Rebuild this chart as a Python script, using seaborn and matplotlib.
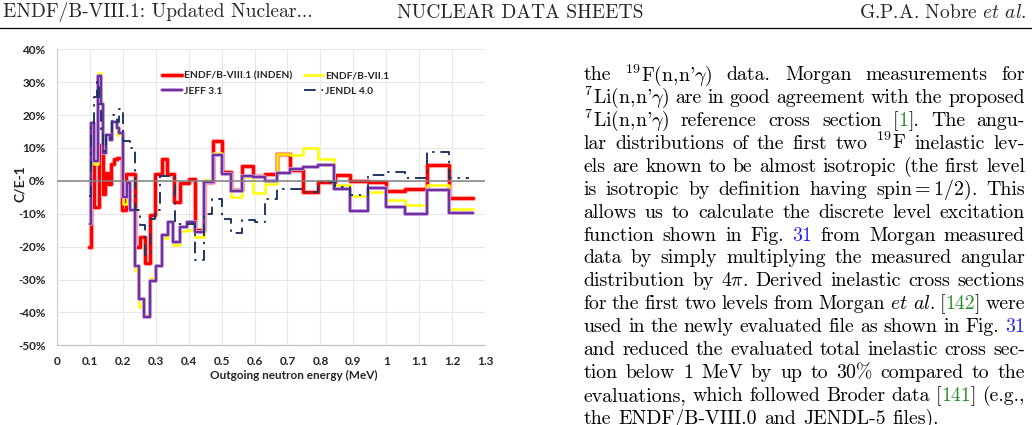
import matplotlib
matplotlib.use('Agg')
import matplotlib.pyplot as plt
import matplotlib.patheffects as pe
from matplotlib.lines import Line2D
import pandas as pd
import seaborn as sns

# values: C/E-1 in %, histogram edges in MeV
inden_e = [0.098, 0.104, 0.114, 0.127, 0.139, 0.148, 0.157, 0.165, 0.174, 0.183, 0.197, 0.21, 0.238,
           0.253, 0.268, 0.283, 0.298, 0.318, 0.334, 0.357, 0.374, 0.4, 0.42, 0.448, 0.475, 0.5,
           0.53, 0.561, 0.596, 0.632, 0.667, 0.708, 0.748, 0.793, 0.844, 0.89, 0.945, 1.0, 1.056,
           1.122, 1.19, 1.262]
inden_v = [-20, 13, -8, 11, -4, 2.5, -1, 5, 6.5, 7, -9, 2, -20, -17, -25, -10.5, 2, 6.7, 2, -6.5,
           -0.7, 0.6, -15, -0.3, 12, 2.6, -2.8, 4.4, 1.6, 2.1, 8.2, 3.4, -3.5, -0.4, 1.8, 0.1, -0.2,
           -3.2, -2.6, 4.9, -5.2]

jeff_e = [0.1, 0.104, 0.112, 0.124, 0.134, 0.141, 0.15, 0.162, 0.167, 0.182, 0.19, 0.2, 0.212,
          0.222, 0.238, 0.251, 0.265, 0.283, 0.3, 0.318, 0.337, 0.354, 0.374, 0.396, 0.42, 0.447,
          0.475, 0.5, 0.53, 0.561, 0.596, 0.632, 0.667, 0.708, 0.748, 0.793, 0.841, 0.89, 0.945,
          1.0, 1.056, 1.122, 1.19, 1.262]
jeff_v = [-13, 17.5, 6, 32, 23.5, 8.5, 14, 12.5, 18, 16, 14.5, -5, -0.8, -9, -26, -36, -41.5, -30.5,
          -25.8, -16.5, -12.5, -18.7, -14, -12.5, -15.4, -0.4, 8, 2.2, -3, 1.6, 1.3, -0.1, 2.3, 3.7,
          4.2, 4.9, -2.4, -9.2, -2.1, -8, -10, -2.9, -9.7]

b71_e = jeff_e
b71_v = [-12, 17.5, 5, 32.8, 23.5, 8.5, 14, 12.5, 18, 14, 14.5, -7, -0.8, -9, -27.5, -38.5, -40.8,
         -29.5, -25.8, -17.5, -12.5, -19.5, -15.3, -15, -17, 0.2, 8.5, 2, -4.8, 1.3, -3.7, -0.9,
         8.3, 8, 9.9, 6.7, -1.2, -4.7, -3.5, -5.7, -7.2, -1.4, -8.5]

jendl_e = [0.098, 0.104, 0.114, 0.121, 0.128, 0.135, 0.141, 0.15, 0.162, 0.167, 0.182, 0.19, 0.2,
           0.222, 0.238, 0.253, 0.268, 0.283, 0.298, 0.313, 0.359, 0.42, 0.448, 0.472, 0.5, 0.53,
           0.561, 0.6, 0.632, 0.667, 0.748, 0.793, 0.844, 0.89, 0.945, 1.0, 1.056, 1.122, 1.19, 1.25]
jendl_v = [-4.5, 17.5, 25.5, 30, 23.5, 15, 9, 14, 13, 20, 18, 22, 12, 10, -9, -13.5, -22.5, -11.5,
           -9, 1.6, -13, -24, -10, -5.5, -11.6, -16, -12, -12.5, -5.5, -2.6, -3.5, -0.2, -2, -4.2,
           1.8, 2.6, 0.8, 8.9, 0.8]

x_ticks = [0, 0.1, 0.2, 0.3, 0.4, 0.5, 0.6, 0.7, 0.8, 0.9, 1.0, 1.1, 1.2, 1.3]
x_labels = ['0', '0.1', '0.2', '0.3', '0.4', '0.5', '0.6', '0.7', '0.8', '0.9', '1', '1.1', '1.2', '1.3']
y_ticks = [-50, -40, -30, -20, -10, 0, 10, 20, 30, 40]
y_labels = ['-50%', '-40%', '-30%', '-20%', '-10%', '0%', '10%', '20%', '30%', '40%']

W, H = 1032, 425
sns.set_style('white')
plt.rcParams['font.family'] = ['Lato', 'DejaVu Sans']
plt.rcParams['mathtext.fontset'] = 'cm'

fig = plt.figure(figsize=(W / 100, H / 100), dpi=100)
ax = fig.add_axes([56.7 / W, 1 - 345.3 / H, 428.6 / W, 296 / H])


def steps(e, v):
    return pd.DataFrame({'E': e, 'CE': list(v) + [v[-1]]})


d = steps(inden_e, inden_v)
sns.lineplot(data=d, x='E', y='CE', drawstyle='steps-post', estimator=None, sort=False, ax=ax,
             color='#ff0000', lw=2.3, label='ENDF/B-VIII.1 (INDEN)',
             path_effects=[pe.withStroke(linewidth=3.8, foreground='#ffb4b4')])
d = steps(b71_e, b71_v)
sns.lineplot(data=d, x='E', y='CE', drawstyle='steps-post', estimator=None, sort=False, ax=ax,
             color='#ffff00', lw=1.8, label='ENDF/B-VII.1')
d = steps(jeff_e, jeff_v)
sns.lineplot(data=d, x='E', y='CE', drawstyle='steps-post', estimator=None, sort=False, ax=ax,
             color='#7030a0', lw=1.6, label='JEFF 3.1',
             path_effects=[pe.withStroke(linewidth=2.8, foreground='#c9a6e0')])
d = steps(jendl_e, jendl_v)
sns.lineplot(data=d, x='E', y='CE', drawstyle='steps-post', estimator=None, sort=False, ax=ax,
             color='#1f3864', lw=1.4, label='JENDL 4.0', linestyle=(0, (6, 3, 1.2, 3)))

ax.axhline(0, color='#808080', lw=1.1, zorder=5)

ax.set_xlim(0, 1.3)
ax.set_ylim(-50, 40)
ax.set_xticks(x_ticks)
ax.set_xticklabels(x_labels, fontsize=8.5, fontweight='bold')
ax.set_yticks(y_ticks)
ax.set_yticklabels(y_labels, fontsize=8.5, fontweight='bold')
ax.grid(True, color='#e8e8e8', lw=0.8)
ax.set_axisbelow(True)
for s in ['top', 'right']:
    ax.spines[s].set_visible(False)
ax.spines['left'].set_color('#d0d0d0')
ax.spines['bottom'].set_color('#bfbfbf')
ax.tick_params(axis='x', length=4, color='#bfbfbf', pad=4)
ax.tick_params(axis='y', length=0, pad=8)

ax.set_xlabel('Outgoing neutron energy (MeV)', fontsize=8.5, fontweight='bold')
ax.xaxis.set_label_coords(0.554, -0.083)
ax.set_ylabel('C/E-1', fontsize=10, fontweight='bold')
ax.yaxis.set_label_coords(-0.072, 0.545)

h, l = ax.get_legend_handles_labels()
order = ['ENDF/B-VIII.1 (INDEN)', 'JEFF 3.1', 'ENDF/B-VII.1', 'JENDL 4.0']
hd = dict(zip(l, h))
ax.legend([hd[k] for k in order], order, ncol=2, frameon=False, loc='upper left',
          bbox_to_anchor=(0.225, 0.955), prop={'weight': 'bold', 'size': 7.3},
          handlelength=1.9, handletextpad=0.2, columnspacing=1.2, labelspacing=0.55)

# ---- page text ----
SERIF = ['cmr10', 'DejaVu Serif']
GREEN = '#2a8a2a'
BLUE = '#2020ff'
renderer = fig.canvas.get_renderer()


def width(s, fs):
    t = fig.text(0, 0, s, fontsize=fs, family=SERIF)
    w = t.get_window_extent(renderer).width
    t.remove()
    return w


def parse(word):
    segs = []
    for piece in word.split('|'):
        if piece.startswith('g:'):
            segs.append((piece[2:], GREEN))
        elif piece.startswith('b:'):
            segs.append((piece[2:], BLUE))
        elif piece:
            segs.append((piece, 'black'))
    return segs


def place_line(line, ybase, x0, x1, fs, justify=True):
    words = [parse(w) for w in line.split()]
    ws = [[width(s, fs) for s, c in w] for w in words]
    tot = sum(sum(w) for w in ws)
    if justify and len(words) > 1:
        gap = (x1 - x0 - tot) / (len(words) - 1)
    else:
        gap = fs * 0.36 * 100 / 72
    x = x0
    for w, wl in zip(words, ws):
        for (s, c), sw in zip(w, wl):
            fig.text(x / W, 1 - ybase / H, s, fontsize=fs, family=SERIF, color=c, va='baseline')
            x += sw
        x += gap


body = [
    "the $^{19}$F(n,n'$\\gamma$) data. Morgan measurements for",
    "$^{7}$Li(n,n'$\\gamma$) are in good agreement with the proposed",
    "$^{7}$Li(n,n'$\\gamma$) reference cross section [|g:1|]. The angu-",
    "lar distributions of the first two $^{19}$F inelastic lev-",
    "els are known to be almost isotropic (the first level",
    "is isotropic by definition having spin$=1/2$). This",
    "allows us to calculate the discrete level excitation",
    "function shown in Fig. |b:31| from Morgan measured",
    "data by simply multiplying the measured angular",
    "distribution by 4$\\pi$. Derived inelastic cross sections",
    "for the first two levels from Morgan $\\mathit{et}$ $\\mathit{al.}$ [|g:142|] were",
    "used in the newly evaluated file as shown in Fig. |b:31|",
    "and reduced the evaluated total inelastic cross sec-",
    "tion below 1 MeV by up to 30% compared to the",
    "evaluations, which followed Broder data [|g:141|] (e.g.,",
    "the ENDF/B-VIII.0 and JENDL-5 files).",
]

# font size so that the last (unjustified) line has its width on the page
last = body[-1].split()
w10 = sum(width(s, 10) for s in last) + 10 * 0.36 * 100 / 72 * (len(last) - 1)
fs_body = 10 * 357 / w10

for i, line in enumerate(body):
    place_line(line, 80.5 + 22.87 * i, 583.5, 1025, fs_body, justify=(i < len(body) - 1))

# running header
fs_head = 10 * 246 / width('NUCLEAR DATA SHEETS', 10)
fig.text(3 / W, 1 - 17.5 / H, 'ENDF/B-VIII.1: Updated Nuclear...', fontsize=fs_head, family=SERIF,
         va='baseline')
fig.text(520 / W, 1 - 17.5 / H, 'NUCLEAR DATA SHEETS', fontsize=fs_head, family=SERIF,
         va='baseline', ha='center')
fig.text(1027 / W, 1 - 17.5 / H, 'G.P.A. Nobre $\\mathit{et\\ al.}$', fontsize=fs_head, family=SERIF,
         va='baseline', ha='right')
fig.add_artist(Line2D([0, 1], [1 - 27.5 / H] * 2, color='black', lw=0.9, transform=fig.transFigure))

fig.savefig('out.png', dpi=100)
